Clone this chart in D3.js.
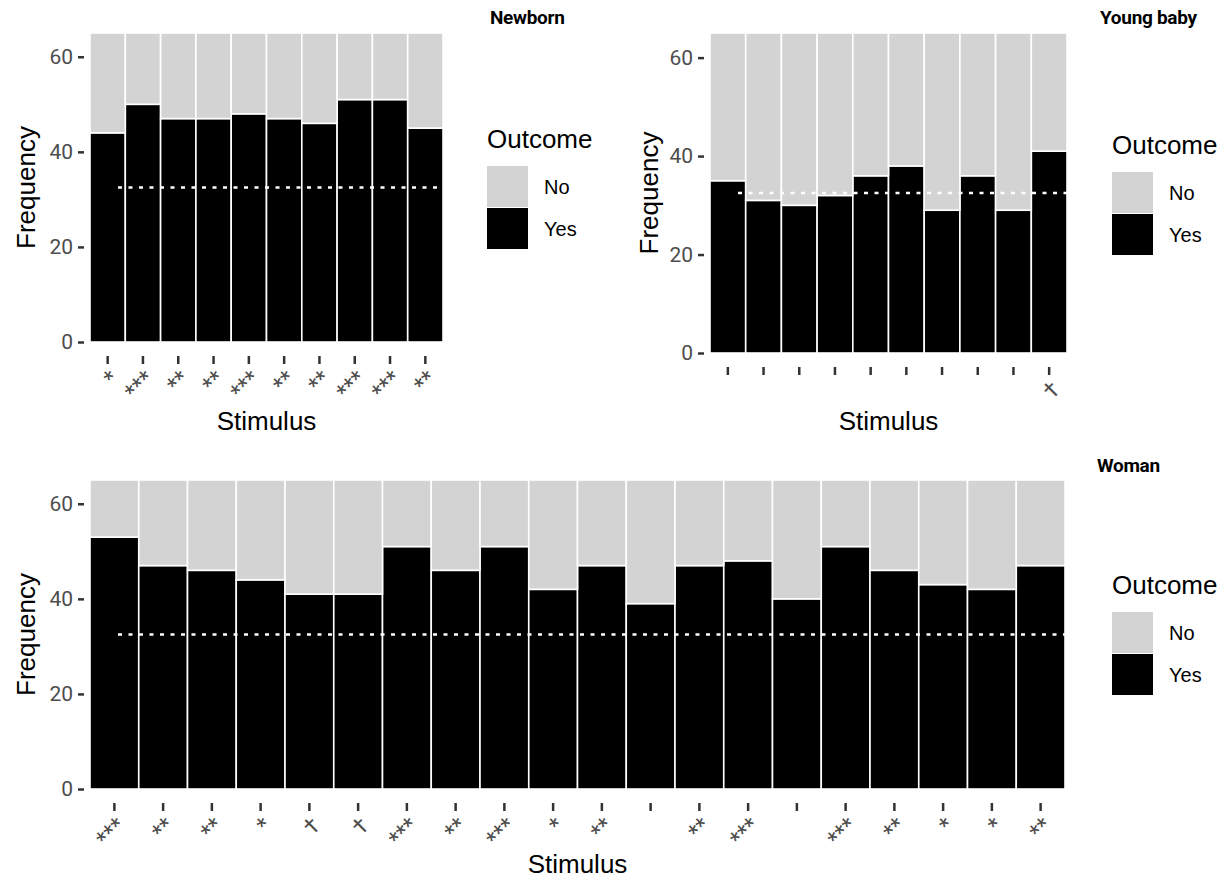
<!DOCTYPE html>
<html>
<head>
<meta charset="utf-8">
<script src="https://cdn.jsdelivr.net/npm/d3@7"></script>
<style>
  body { margin: 0; background: #fff; }
  text { font-family: "Liberation Sans", Arial, sans-serif; }
</style>
</head>
<body>
<svg id="chart" width="1230" height="880"></svg>
<script>
// values, one bar per stimulus
const yMax = 65;
const chance = 32.5;
const yTicks = [0, 20, 40, 60];
const outcomes = ['No', 'Yes'];

const newbornStimuli = ['N1', 'N2', 'N3', 'N4', 'N5', 'N6', 'N7', 'N8', 'N9', 'N10'];
const newbornYes = [44, 50, 47, 47, 48, 47, 46, 51, 51, 45];
const newbornNo = [21, 15, 18, 18, 17, 18, 19, 14, 14, 20];
const newbornSig = ['*', '***', '**', '**', '***', '**', '**', '***', '***', '**'];

const youngStimuli = ['Y1', 'Y2', 'Y3', 'Y4', 'Y5', 'Y6', 'Y7', 'Y8', 'Y9', 'Y10'];
const youngYes = [35, 31, 30, 32, 36, 38, 29, 36, 29, 41];
const youngNo = [30, 34, 35, 33, 29, 27, 36, 29, 36, 24];
const youngSig = ['', '', '', '', '', '', '', '', '', '†'];

const womanStimuli = ['W1', 'W2', 'W3', 'W4', 'W5', 'W6', 'W7', 'W8', 'W9', 'W10',
    'W11', 'W12', 'W13', 'W14', 'W15', 'W16', 'W17', 'W18', 'W19', 'W20'];
const womanYes = [53, 47, 46, 44, 41, 41, 51, 46, 51, 42, 47, 39, 47, 48, 40, 51, 46, 43, 42, 47];
const womanNo = [12, 18, 19, 21, 24, 24, 14, 19, 14, 23, 18, 26, 18, 17, 25, 14, 19, 22, 23, 18];
const womanSig = ['***', '**', '**', '*', '†', '†', '***', '**', '***', '*',
    '**', '', '**', '***', '', '***', '**', '*', '*', '**'];

const fills = { No: '#d3d3d3', Yes: '#000000' };

const svg = d3.select('#chart');

function drawPanel(p) {
    let g = svg.append('g');

    let rows = p.stimuli.map((s, i) => ({ stim: s, Yes: p.yes[i], No: p.no[i] }));
    let series = d3.stack().keys(['Yes', 'No'])(rows);

    let x = d3.scaleBand()
        .domain(p.stimuli)
        .range([p.left, p.right])
        .padding(0);

    let y = d3.scaleLinear()
        .domain([0, yMax])
        .range([p.bottom, p.top]);

    g.selectAll('g.layer')
        .data(series)
        .enter().append('g')
        .attr('fill', d => fills[d.key])
        .selectAll('rect')
        .data(d => d)
        .enter().append('rect')
        .attr('x', d => x(d.data.stim))
        .attr('y', d => y(d[1]))
        .attr('width', x.bandwidth())
        .attr('height', d => y(d[0]) - y(d[1]))
        .attr('stroke', '#fff')
        .attr('stroke-width', 1.6);

    // chance level
    g.append('line')
        .attr('x1', p.left + 28)
        .attr('x2', p.right)
        .attr('y1', y(chance))
        .attr('y2', y(chance))
        .attr('stroke', '#fff')
        .attr('stroke-width', 2.5)
        .attr('stroke-dasharray', '4,6.5');

    // y axis
    let ya = g.append('g')
        .attr('transform', `translate(${p.left - 6},0)`)
        .call(d3.axisLeft(y).tickValues(yTicks).tickSize(6).tickPadding(5));
    ya.select('.domain').remove();
    ya.selectAll('line').attr('stroke', '#333').attr('stroke-width', 2.5);
    ya.selectAll('text')
        .attr('fill', '#4d4d4d')
        .style('font-size', '21px')
        .style('font-family', 'Roboto, sans-serif');

    // x axis: ticks sit a little below the panel, labels are significance marks
    let xa = g.append('g')
        .attr('transform', `translate(0,${p.bottom + 14})`)
        .call(d3.axisBottom(x).tickSize(8).tickFormat((d, i) => p.sig[i]));
    xa.select('.domain').remove();
    xa.selectAll('line').attr('stroke', '#333').attr('stroke-width', 2.5);
    xa.selectAll('text')
        .attr('fill', '#4d4d4d')
        .style('font-size', '23px')
        .style('font-family', 'Roboto, sans-serif')
        .attr('text-anchor', 'end')
        .attr('y', 0)
        .attr('dy', '0.8em')
        .attr('transform', 'translate(-1,11) rotate(-45)');

    g.append('text')
        .attr('x', (p.left + p.right) / 2)
        .attr('y', p.stimY)
        .attr('text-anchor', 'middle')
        .style('font-size', '26px')
        .text('Stimulus');

    g.append('text')
        .attr('transform', `translate(${p.yTitleX},${(p.top + p.bottom) / 2}) rotate(-90)`)
        .attr('text-anchor', 'middle')
        .style('font-size', '26px')
        .text('Frequency');

    g.append('text')
        .attr('x', p.titleX)
        .attr('y', p.titleY)
        .style('font-size', '19px')
        .style('font-weight', 'bold')
        .style('font-family', 'Roboto, sans-serif')
        .style('letter-spacing', '-0.3px')
        .text(p.title);

    // legend
    let lg = g.append('g').attr('transform', `translate(${p.legX},${p.legY})`);
    lg.append('text')
        .attr('x', 0)
        .attr('y', 0)
        .style('font-size', '26px')
        .text('Outcome');
    outcomes.forEach((o, i) => {
        lg.append('rect')
            .attr('x', 0)
            .attr('y', 18 + i * 42)
            .attr('width', 41)
            .attr('height', 41)
            .attr('fill', fills[o]);
        lg.append('text')
            .attr('x', 57)
            .attr('y', 18 + i * 42 + 28)
            .style('font-size', '20px')
            .text(o);
    });
}

drawPanel({
    title: 'Newborn', stimuli: newbornStimuli, yes: newbornYes, no: newbornNo, sig: newbornSig,
    left: 90, right: 443, top: 33, bottom: 342, stimY: 430,
    yTitleX: 35, titleX: 490, titleY: 24, legX: 487, legY: 148
});

drawPanel({
    title: 'Young baby', stimuli: youngStimuli, yes: youngYes, no: youngNo, sig: youngSig,
    left: 710, right: 1067, top: 33, bottom: 353, stimY: 430,
    yTitleX: 658, titleX: 1100, titleY: 24, legX: 1112, legY: 154
});

drawPanel({
    title: 'Woman', stimuli: womanStimuli, yes: womanYes, no: womanNo, sig: womanSig,
    left: 90, right: 1065, top: 480, bottom: 789, stimY: 873,
    yTitleX: 35, titleX: 1097, titleY: 472, legX: 1112, legY: 594
});
</script>
</body>
</html>
